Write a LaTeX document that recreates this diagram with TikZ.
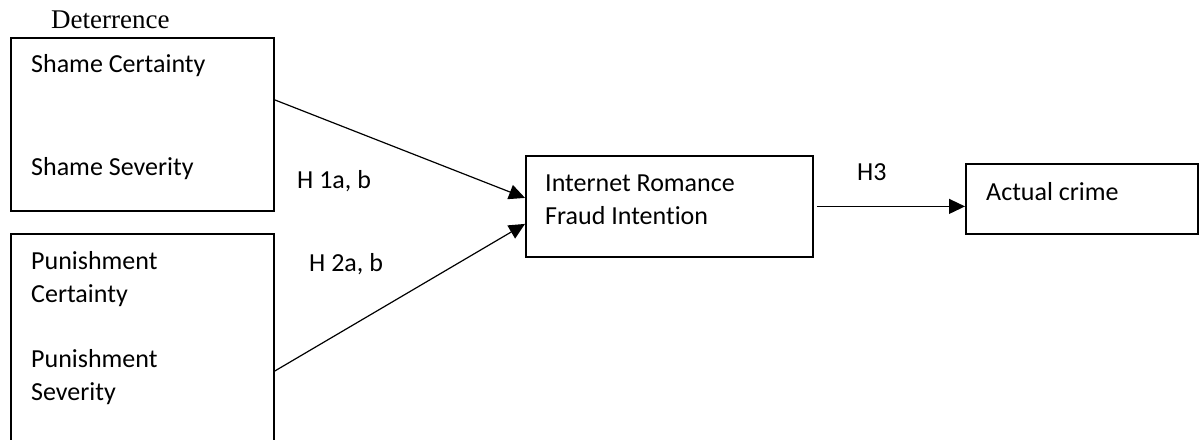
\documentclass[tikz,border=0pt]{standalone}
\usepackage{fontspec}
\setmainfont{Carlito}[Ligatures=NoCommon]
\newfontfamily\garfont{Liberation Serif}
\usetikzlibrary{arrows.meta}
\begin{document}
\begin{tikzpicture}
[x=1pt, y=-1pt,
box/.style={draw, line width=1.8pt, rectangle, inner sep=0pt, anchor=north west},
lbl/.style={anchor=base west, inner sep=0pt, align=left, font=\fontsize{26}{32.5}\selectfont},
link/.style={-{Triangle[length=16pt,width=15pt]}, line width=1.2pt}
]
\useasboundingbox (0,0) rectangle (1199,439);
\clip (0,0) rectangle (1199,439);
%\draw[help lines] (0,0) grid[step=50] (1199,439);
\node[lbl, font=\garfont\fontsize{27}{32}\selectfont] (deter) at (51,28) {Deterrence};
\node[box, minimum width=263pt, minimum height=173pt] (shame) at (10,37) {};
\node[box, minimum width=263pt, minimum height=240pt] (punish) at (10,233) {};
\node[box, minimum width=287pt, minimum height=101pt] (irf) at (525,155) {};
\node[box, minimum width=232pt, minimum height=70pt] (act) at (965,163) {};
% multi-line labels sit on their last baseline
\node[lbl] (shamecert) at (31,72) {Shame Certainty};
\node[lbl] (shamesev) at (31,175) {Shame Severity};
\node[lbl] (punishcert) at (31,302) {Punishment\\Certainty};
\node[lbl] (punishsev) at (31,400) {Punishment\\Severity};
\node[lbl] (irftxt) at (545,224) {Internet Romance\\Fraud Intention};
\node[lbl] (acttxt) at (986,200) {Actual crime};
\node[lbl] (hone) at (297,188) {H 1a, b};
\node[lbl] (htwo) at (309,271) {H 2a, b};
\node[lbl] (hthree) at (857,180) {H3};
\draw[link] ([yshift=24.5pt]shame.east) -- ([yshift=8.5pt]irf.west);
\draw[link] ([yshift=-138pt]punish.north east) -- ([yshift=-17.5pt]irf.west);
\draw[link] ([xshift=3pt]irf.east) -- (irf.east -| act.west);
\end{tikzpicture}
\end{document}
